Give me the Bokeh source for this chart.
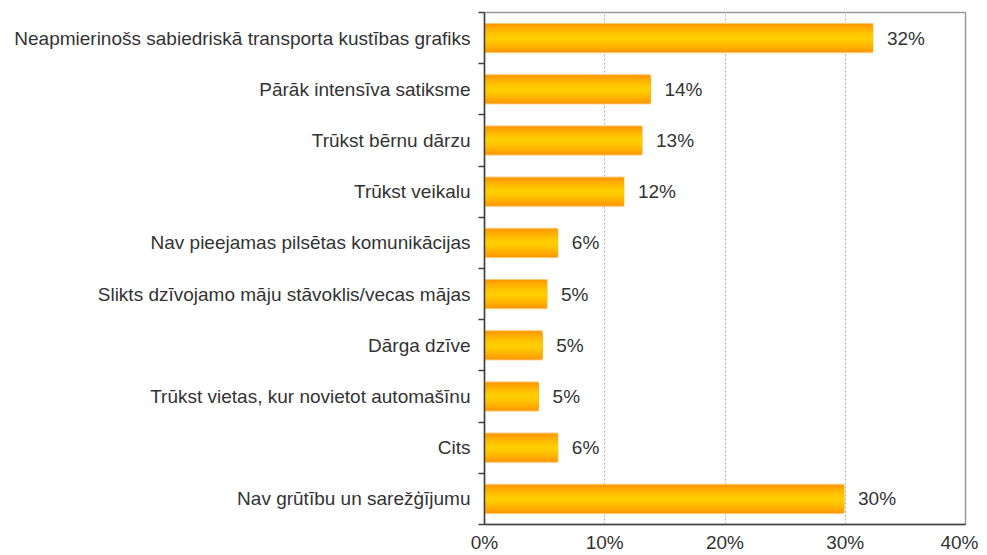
from bokeh.plotting import figure
from bokeh.models import Range1d, FixedTicker, ColumnDataSource
from bokeh.core.properties import value
from bokeh.embed import file_html
from bokeh.resources import INLINE

categories = [
    "Neapmierinošs sabiedriskā transporta kustības grafiks",
    "Pārāk intensīva satiksme",
    "Trūkst bērnu dārzu",
    "Trūkst veikalu",
    "Nav pieejamas pilsētas komunikācijas",
    "Slikts dzīvojamo māju stāvoklis/vecas mājas",
    "Dārga dzīve",
    "Trūkst vietas, kur novietot automašīnu",
    "Cits",
    "Nav grūtību un sarežģījumu",
]
values = [32.3, 13.8, 13.1, 11.6, 6.1, 5.2, 4.8, 4.5, 6.1, 29.9]
value_labels = ["32%", "14%", "13%", "12%", "6%", "5%", "5%", "5%", "6%", "30%"]
x_ticks = [0, 10, 20, 30, 40]

FONT = "Liberation Sans"
FS = "19px"
n = len(categories)
ypos = [n - i for i in range(n)]

p = figure(width=978, height=555, output_backend="svg", toolbar_location=None,
           x_range=Range1d(0, 40), y_range=Range1d(0.5, n + 0.5),
           min_border_left=484, min_border_top=12, min_border_right=13,
           min_border_bottom=27)
p.background_fill_color = "white"
p.border_fill_color = "white"
p.outline_line_color = "#9a9a9a"
p.outline_line_width = 1.5

# gradient bars as nested, progressively thinner bars
bar_h = 0.57
nstep = 16
edge = (255, 152, 0)
mid = (255, 206, 0)
src = ColumnDataSource(dict(y=ypos, right=values))
p.hbar(y="y", left=0, right="right", height=bar_h, source=src,
       fill_color="#ff9800", line_color="#ffc870", line_width=1)
for k in range(1, nstep):
    frac = 1 - k / nstep
    d = frac
    c = tuple(int(round(mid[j] + (edge[j] - mid[j]) * d ** 1.5)) for j in range(3))
    col = "#%02x%02x%02x" % c
    p.hbar(y="y", left=0, right="right", height=bar_h * frac * 0.96, source=src,
           fill_color=col, line_color=None)

lab_src = ColumnDataSource(dict(x=values, y=ypos, t=value_labels))
p.text(x="x", y="y", text="t", source=lab_src, x_offset=14,
       text_font=value(FONT), text_font_size=FS, text_color="#333333",
       text_baseline="middle", text_align="left")

# axes
p.xaxis.ticker = FixedTicker(ticks=x_ticks)
p.xaxis.major_label_overrides = {t: f"{t}%" for t in x_ticks}
p.xaxis.major_tick_out = 5
p.xaxis.major_tick_in = 0
p.xaxis.major_label_standoff = 2

p.yaxis.ticker = FixedTicker(ticks=ypos, minor_ticks=[y + 0.5 for y in range(n + 1)])
p.yaxis.major_label_overrides = {y: c for y, c in zip(ypos, categories)}
p.yaxis.major_tick_out = 0
p.yaxis.major_tick_in = 0
p.yaxis.minor_tick_out = 6
p.yaxis.minor_tick_in = 0
p.yaxis.major_label_standoff = 8

for ax in (p.xaxis, p.yaxis):
    ax.axis_line_color = "#404040"
    ax.axis_line_width = 1.5
    ax.major_tick_line_color = "#404040" if ax is p.xaxis else None
    ax.minor_tick_line_color = None if ax is p.xaxis else "#404040"
    ax.major_tick_line_width = 1.5
    ax.minor_tick_line_width = 1.5
    ax.major_label_text_font = FONT
    ax.major_label_text_font_size = FS
    ax.major_label_text_color = "#333333"

p.xgrid.ticker = FixedTicker(ticks=[10, 20, 30])
p.xgrid.grid_line_color = "#b0b0b0"
p.xgrid.grid_line_dash = "2 2"
p.xgrid.grid_line_width = 1
p.ygrid.grid_line_color = None

open("out.html", "w").write(file_html(p, INLINE))
